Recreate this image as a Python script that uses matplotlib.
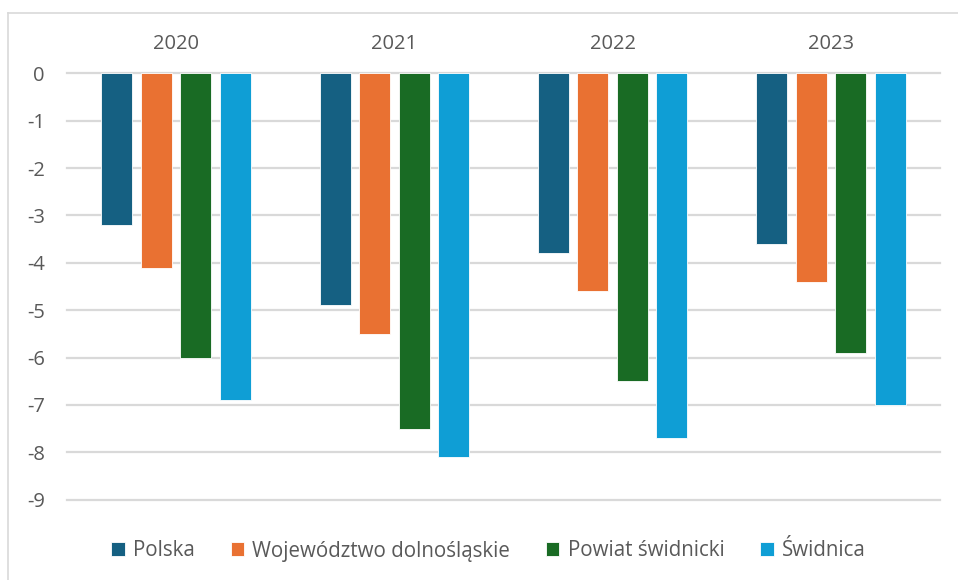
import matplotlib
matplotlib.use("Agg")
import matplotlib.pyplot as plt
from matplotlib.lines import Line2D
import numpy as np

plt.rcParams['font.family'] = ['Open Sans', 'DejaVu Sans']

# data
years = ["2020", "2021", "2022", "2023"]
series = ["Polska", "Województwo dolnośląskie", "Powiat świdnicki", "Świdnica"]
polska = [-3.2, -4.9, -3.8, -3.6]
wojewodztwo = [-4.1, -5.5, -4.6, -4.4]
powiat = [-6.0, -7.5, -6.5, -5.9]
swidnica = [-6.9, -8.1, -7.7, -7.0]
colors = ["#156082", "#E97132", "#196B24", "#0F9ED5"]
yticks = [0, -1, -2, -3, -4, -5, -6, -7, -8, -9]

text_gray = "#595959"
grid_gray = "#D9D9D9"

fig = plt.figure(figsize=(9.58, 5.80), dpi=100)
ax = fig.add_axes([67 / 958, 1 - 499.7 / 580, (940 - 67) / 958, (499.7 - 73.3) / 580])

x = np.arange(len(years))
step = 0.181
width = 0.142
for i, (name, vals) in enumerate(zip(series, [polska, wojewodztwo, powiat, swidnica])):
    ax.bar(x + (i - 1.5) * step, vals, width, color=colors[i], label=name,
           edgecolor="white", linewidth=0.6, zorder=3)

ax.set_xlim(-0.5, len(years) - 0.5)
ax.set_ylim(-9, 0)
ax.set_yticks(yticks)
ax.set_yticklabels([str(t) if t == 0 else "-" + str(-t) for t in yticks])
ax.tick_params(axis="y", length=0, pad=16, labelsize=14.5, labelcolor=text_gray)

ax.xaxis.tick_top()
ax.set_xticks(x)
ax.set_xticklabels(years)
ax.tick_params(axis="x", length=0, pad=14, labelsize=14.5, labelcolor=text_gray)

ax.yaxis.grid(True, color=grid_gray, linewidth=1.6)
for gl in ax.get_ygridlines():
    gl.set_clip_on(False)
ax.set_axisbelow(True)
for s in ax.spines.values():
    s.set_visible(False)

leg = fig.legend(loc="center", bbox_to_anchor=(0.51, 1 - 551 / 580), ncol=4,
                 frameon=False, fontsize=14.8, handlelength=0.65, handleheight=0.65,
                 handletextpad=0.4, columnspacing=1.75)
for t in leg.get_texts():
    t.set_color(text_gray)

# outer chart border (top and left visible)
fig.add_artist(Line2D([8 / 958, 1.0], [1 - 13 / 580, 1 - 13 / 580], color=grid_gray, linewidth=1.2))
fig.add_artist(Line2D([8 / 958, 8 / 958], [0.0, 1 - 13 / 580], color=grid_gray, linewidth=1.2))

fig.savefig("out.png", dpi=100, facecolor="white")
